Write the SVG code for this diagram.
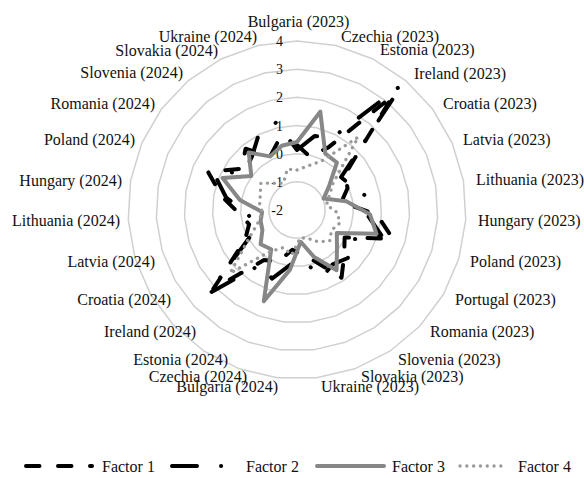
<svg xmlns="http://www.w3.org/2000/svg" xmlns:xlink="http://www.w3.org/1999/xlink" width="584" height="478" viewBox="0 0 584 478">
<style>
.ring{fill:none;stroke:#d0d0d0;stroke-width:1.5}
.tick{font-size:14px;fill:#111;text-anchor:end}
.cat{font-size:16px;fill:#111}
.leg{font-size:16px;fill:#111}
.s{fill:none;stroke-linejoin:round}
.f1{stroke:#000;stroke-width:4;stroke-linecap:round;stroke-dasharray:13.5 18.5}
.f2{stroke:#000;stroke-width:4;stroke-linecap:round;stroke-dasharray:25 24 0.1 24}
.f3{stroke:#878787;stroke-width:4;stroke-linecap:round}
.f4{stroke:#9a9a9a;stroke-width:3.3;stroke-linecap:round;stroke-dasharray:0.1 6.7}
</style>
<defs>
<polygon id="ringShape" vector-effect="non-scaling-stroke" points="0,-100 23.06,-97.30 44.88,-89.36 64.28,-76.60 80.21,-59.72 91.82,-39.61 98.48,-17.36 99.83,5.81 95.80,28.68 86.60,50 72.74,68.62 54.95,83.55 34.20,93.97 11.61,99.32 -11.61,99.32 -34.20,93.97 -54.95,83.55 -72.74,68.62 -86.60,50 -95.80,28.68 -99.83,5.81 -98.48,-17.36 -91.82,-39.61 -80.21,-59.72 -64.28,-76.60 -44.88,-89.36 -23.06,-97.30"/>
</defs>
<rect width="584" height="478" fill="#fff"/>
<g id="grid" class="ring">
<use xlink:href="#ringShape" transform="translate(297 210) scale(0.2817)"/>
<use xlink:href="#ringShape" transform="translate(297 210) scale(0.5633)"/>
<use xlink:href="#ringShape" transform="translate(297 210) scale(0.845)"/>
<use xlink:href="#ringShape" transform="translate(297 210) scale(1.1267)"/>
<use xlink:href="#ringShape" transform="translate(297 210) scale(1.4083)"/>
<use xlink:href="#ringShape" transform="translate(297 210) scale(1.69)"/>
</g>
<g id="ticks" class="tick" font-family="'Liberation Serif', 'DejaVu Serif', serif">
<text x="283" y="46">4</text>
<text x="283" y="74.2">3</text>
<text x="283" y="102.3">2</text>
<text x="283" y="130.5">1</text>
<text x="283" y="158.7">0</text>
<text x="283" y="186.8">-1</text>
<text x="283" y="215">-2</text>
</g>
<g id="labels" class="cat" font-family="'Liberation Serif', 'DejaVu Serif', serif">
<text x="298.5" y="26.5" text-anchor="middle">Bulgaria (2023)</text>
<text x="341" y="42">Czechia (2023)</text>
<text x="380" y="55">Estonia (2023)</text>
<text x="414" y="79">Ireland (2023)</text>
<text x="443" y="109">Croatia (2023)</text>
<text x="463" y="145">Latvia (2023)</text>
<text x="476" y="185">Lithuania (2023)</text>
<text x="478" y="226">Hungary (2023)</text>
<text x="470" y="267">Poland (2023)</text>
<text x="455" y="305">Portugal (2023)</text>
<text x="430" y="337">Romania (2023)</text>
<text x="398" y="365">Slovenia (2023)</text>
<text x="361" y="382">Slovakia (2023)</text>
<text x="321" y="392">Ukraine (2023)</text>
<text x="278" y="392" text-anchor="end">Bulgaria (2024)</text>
<text x="247" y="382" text-anchor="end">Czechia (2024)</text>
<text x="228" y="365" text-anchor="end">Estonia (2024)</text>
<text x="196" y="337" text-anchor="end">Ireland (2024)</text>
<text x="171" y="305" text-anchor="end">Croatia (2024)</text>
<text x="155" y="267" text-anchor="end">Latvia (2024)</text>
<text x="120" y="225.5" text-anchor="end">Lithuania (2024)</text>
<text x="122" y="186" text-anchor="end">Hungary (2024)</text>
<text x="135" y="145" text-anchor="end">Poland (2024)</text>
<text x="155" y="109" text-anchor="end">Romania (2024)</text>
<text x="183" y="78" text-anchor="end">Slovenia (2024)</text>
<text x="218" y="56" text-anchor="end">Slovakia (2024)</text>
<text x="257" y="42" text-anchor="end">Ukraine (2024)</text>
</g>
<g id="connectors" transform="translate(297 210)">
<polygon id="factor1" class="s f1" points="0,-65 12.7,-53.5 31.4,-62.6 95.8,-114.1 48.1,-35.8 50.5,-21.8 44.3,-7.8 79.9,4.6 95.8,28.7 47.6,27.5 47.3,44.6 44.5,67.7 18.8,51.7 5.2,44.7 -4.6,39.7 -18.8,51.7 -33.0,50.1 -83.7,78.9 -52.0,30 -47.9,14.3 -57.9,3.4 -74.8,-13.2 -89.1,-38.4 -55.3,-41.2 -51.4,-61.3 -26.9,-53.6 -17.1,-72.0"/>
<polygon id="factor2" class="s f2" points="0,-60 17.5,-73.9 36.8,-73.3 105.4,-125.6 44.1,-32.8 55.1,-23.8 70.9,-12.5 69.9,4.1 84.3,25.2 52.0,30 50.9,48.0 35.7,54.3 24.6,67.7 5.8,49.7 -6.4,54.6 -25.0,68.6 -35.7,54.3 -88.7,83.7 -47.6,27.5 -43.1,12.9 -49.9,2.9 -70.9,-12.5 -82.6,-35.6 -52.1,-38.8 -45.0,-53.6 -38.1,-76.0 -20.8,-87.6"/>
<polygon id="factor3" class="s f3" points="0,-68 23.3,-98.3 28.3,-56.3 39.9,-47.5 32.1,-23.9 26.6,-11.5 49.2,-8.7 72.9,4.2 79.5,23.8 39.8,23 40.0,37.7 39.6,60.2 17.1,47.0 3.7,31.8 -7.0,59.6 -33.2,91.2 -25.8,39.3 -36.4,34.3 -34.6,20 -36.4,10.9 -34.9,2.0 -57.1,-10.1 -74.4,-32.1 -45.7,-34.0 -48.2,-57.5 -26.9,-53.6 -15.2,-64.2"/>
<polygon id="factor4" class="s f4" points="0,-40 10.4,-43.8 24.7,-49.1 61.1,-72.8 36.1,-26.9 32.1,-13.9 29.5,-5.2 39.9,2.3 43.1,12.9 34.6,20 32.7,30.9 20.9,31.7 10.3,28.2 3.3,27.8 -5.2,44.7 -13.7,37.6 -27.5,41.8 -66.9,63.1 -47.6,27.5 -38.3,11.5 -34.9,2.0 -37.4,-6.6 -36.7,-15.8 -36.1,-26.9 -22.5,-26.8 -13.5,-26.8 -9.7,-40.9"/>
</g>
<g id="legend">
<line class="s f1" x1="26" y1="466" x2="92" y2="466"/>
<line class="s f2" x1="172" y1="466" x2="240" y2="466"/>
<line class="s f3" x1="317" y1="466" x2="384" y2="466"/>
<line class="s f4" x1="460" y1="466" x2="507" y2="466"/>
<g class="leg" font-family="'Liberation Serif', 'DejaVu Serif', serif">
<text x="102" y="471.5">Factor 1</text>
<text x="246" y="471.5">Factor 2</text>
<text x="392" y="471.5">Factor 3</text>
<text x="518" y="471.5">Factor 4</text>
</g>
</g>
</svg>
